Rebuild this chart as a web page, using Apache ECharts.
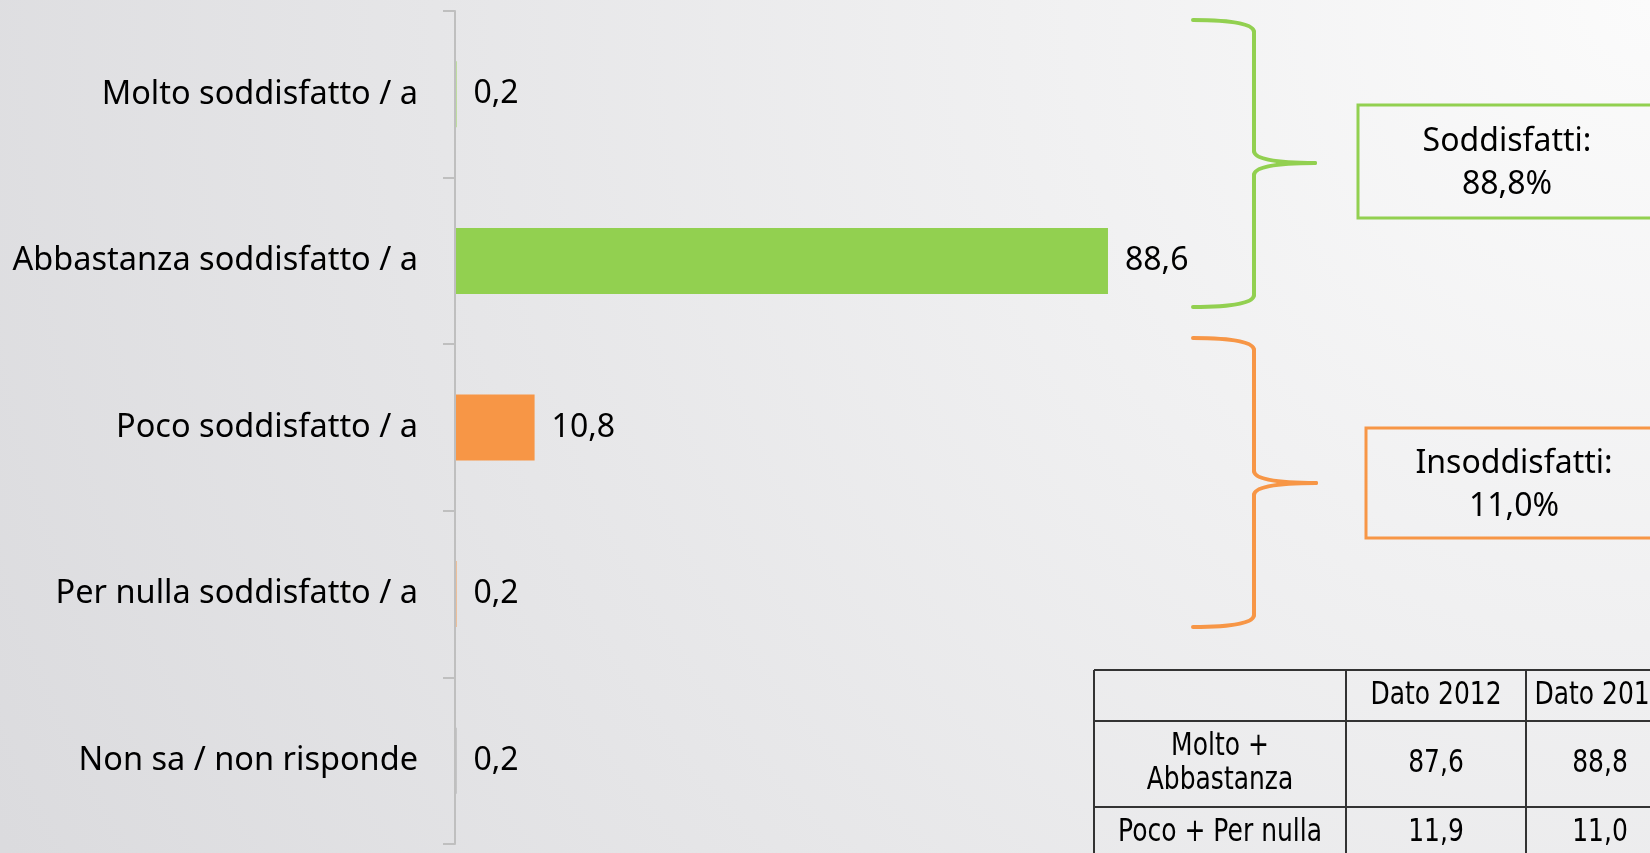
<!DOCTYPE html>
<html>
<head>
<meta charset="utf-8">
<title>Soddisfazione</title>
<script src="https://cdn.jsdelivr.net/npm/echarts@6/dist/echarts.min.js"></script>
<style>
  html, body { margin: 0; padding: 0; }
  #chart { width: 1650px; height: 853px; }
</style>
</head>
<body>
<div id="chart"></div>
<script>
const categories = ['Molto soddisfatto / a', 'Abbastanza soddisfatto / a', 'Poco soddisfatto / a', 'Per nulla soddisfatto / a', 'Non sa / non risponde'];
const values = [0.2, 88.6, 10.8, 0.2, 0.2];
const barColors = ['#92D050', '#92D050', '#F79646', '#F79646', '#A5A5A5'];

const summaryLabels = ['Soddisfatti:', 'Insoddisfatti:'];
const summaryValues = [88.8, 11.0];
const summaryColors = ['#92D050', '#F79646'];

const tableHeader = ['', 'Dato 2012', 'Dato 2013'];
const tableRowLabels = ['Molto +\nAbbastanza', 'Poco + Per nulla'];
const data2012 = [87.6, 11.9];
const data2013 = [88.8, 11.0];

const FONT = 'Noto Sans';
const TABLE_FONT = 'DejaVu Sans';

const fmt = v => v.toFixed(1).replace('.', ',');

// graffa: estremi a sinistra (xl), dorso in xr, punta in xt
function brace(xl, xr, xt, y0, ym, y1, color) {
  const st = { fill: 'none', stroke: color, lineWidth: 4, lineCap: 'round' };
  const r = 12;
  return [
    { type: 'bezierCurve', shape: { x1: xl, y1: y0, cpx1: xr, cpy1: y0, x2: xr, y2: y0 + r }, style: st },
    { type: 'line', shape: { x1: xr, y1: y0 + r, x2: xr, y2: ym - r }, style: st },
    { type: 'bezierCurve', shape: { x1: xr, y1: ym - r, cpx1: xr, cpy1: ym, x2: xt, y2: ym }, style: st },
    { type: 'bezierCurve', shape: { x1: xt, y1: ym, cpx1: xr, cpy1: ym, x2: xr, y2: ym + r }, style: st },
    { type: 'line', shape: { x1: xr, y1: ym + r, x2: xr, y2: y1 - r }, style: st },
    { type: 'bezierCurve', shape: { x1: xr, y1: y1 - r, cpx1: xr, cpy1: y1, x2: xl, y2: y1 }, style: st }
  ];
}

function buildGraphics() {
  let els = [];

  els = els.concat(brace(1193, 1254, 1315, 20, 163, 307, summaryColors[0]));
  els = els.concat(brace(1193, 1254, 1316, 338, 483, 627, summaryColors[1]));

  // riquadri riassuntivi
  const boxes = [
    { x: 1358, y: 105, w: 300, h: 113, cx: 1507 },
    { x: 1366, y: 428, w: 300, h: 110, cx: 1514 }
  ];
  boxes.forEach((b, i) => {
    els.push({
      type: 'rect',
      shape: { x: b.x, y: b.y, width: b.w, height: b.h },
      style: { fill: 'none', stroke: summaryColors[i], lineWidth: 3 }
    });
    els.push({
      type: 'text',
      style: {
        text: summaryLabels[i] + '\n' + fmt(summaryValues[i]) + '%',
        x: b.cx, y: b.y + b.h / 2 + 2,
        align: 'center', verticalAlign: 'middle',
        fontSize: 32, fontFamily: FONT, lineHeight: 43, fill: '#000'
      }
    });
  });

  // tabella
  const colX = [1094, 1346, 1526, 1674];
  const rowY = [670, 721, 807, 858];
  const lineStyle = { stroke: '#333', lineWidth: 2 };
  rowY.forEach(y => {
    els.push({ type: 'line', shape: { x1: colX[0], y1: y, x2: colX[3], y2: y }, style: lineStyle });
  });
  colX.forEach(x => {
    els.push({ type: 'line', shape: { x1: x, y1: rowY[0], x2: x, y2: rowY[3] }, style: lineStyle });
  });

  const cells = [tableHeader];
  tableRowLabels.forEach((lab, i) => {
    cells.push([lab, fmt(data2012[i]), fmt(data2013[i])]);
  });
  // il testo della tabella nell'originale e' allungato in verticale
  const sy = 1.3;
  cells.forEach((row, r) => {
    row.forEach((txt, c) => {
      if (!txt) return;
      els.push({
        type: 'text',
        x: (colX[c] + colX[c + 1]) / 2,
        y: (rowY[r] + rowY[r + 1]) / 2,
        scaleY: sy,
        style: {
          text: txt,
          x: 0, y: 0,
          align: 'center', verticalAlign: 'middle',
          fontSize: 25, fontFamily: TABLE_FONT, lineHeight: 34 / sy, fill: '#000'
        }
      });
    });
  });

  return els;
}

const chart = echarts.init(document.getElementById('chart'));

const option = {
  backgroundColor: {
    type: 'radial',
    x: 1650, y: 0, r: 1850,
    global: true,
    colorStops: [
      { offset: 0, color: '#fbfbfb' },
      { offset: 1, color: '#dbdbde' }
    ]
  },
  animation: false,
  grid: { left: 455, top: 11, width: 737, height: 833 },
  xAxis: {
    type: 'value',
    min: 0,
    max: 100,
    show: false
  },
  yAxis: {
    type: 'category',
    data: categories,
    inverse: true,
    z: 3,
    axisLine: { show: true, lineStyle: { color: '#BFBFBF', width: 2 } },
    axisTick: { show: true, length: 12, lineStyle: { color: '#BFBFBF', width: 2 } },
    axisLabel: {
      margin: 37,
      fontSize: 32.5,
      fontFamily: FONT,
      color: '#000',
      padding: [4, 0, 0, 0]
    }
  },
  series: [
    {
      type: 'bar',
      barWidth: 66,
      data: values.map((v, i) => ({ value: v, itemStyle: { color: barColors[i] } })),
      label: {
        show: true,
        position: 'right',
        distance: 17,
        fontSize: 32,
        fontFamily: FONT,
        color: '#000',
        padding: [4, 0, 0, 0],
        formatter: p => fmt(p.value)
      }
    }
  ],
  graphic: buildGraphics()
};

chart.setOption(option);
</script>
</body>
</html>
